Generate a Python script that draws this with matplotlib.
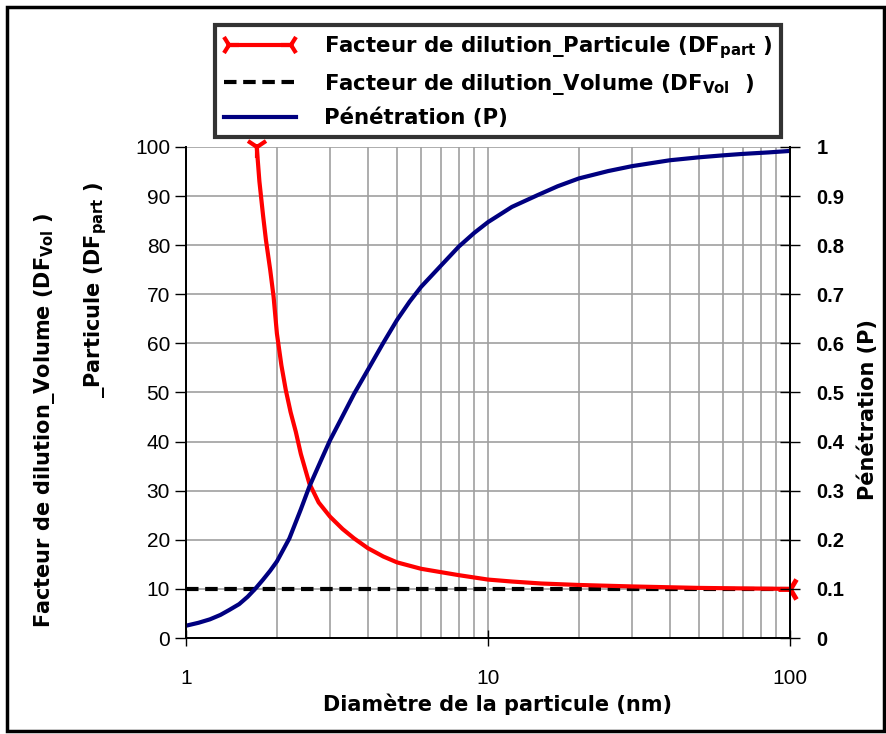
import matplotlib
matplotlib.use('Agg')
import matplotlib.pyplot as plt
from matplotlib.lines import Line2D
from matplotlib.legend_handler import HandlerBase
from matplotlib.patches import Rectangle
from matplotlib.ticker import FixedLocator, NullFormatter, FixedFormatter

plt.rcParams['font.family'] = ['Liberation Sans', 'DejaVu Sans']
plt.rcParams['mathtext.fontset'] = 'custom'
plt.rcParams['mathtext.bf'] = 'DejaVu Sans:bold'
plt.rcParams['mathtext.rm'] = 'DejaVu Sans:bold'
plt.rcParams['mathtext.default'] = 'bf'

BOLD = {'family': 'DejaVu Sans', 'weight': 'bold', 'size': 15}
LEG_FONT = {'family': 'DejaVu Sans', 'weight': 'bold', 'size': 15.3}

# Particle diameter (nm) and values
d_pen = [1, 1.1, 1.2, 1.3, 1.39, 1.5, 1.6, 1.7, 1.8, 1.9, 2, 2.2, 2.4,
         2.56, 2.8, 3, 3.3, 3.6, 4, 4.5, 5, 5.5, 6, 7, 8, 9, 10, 12, 14.6,
         17, 20, 25, 30, 40, 50, 60, 70, 85, 100]
pen = [0.025, 0.031, 0.038, 0.047, 0.057, 0.069, 0.084, 0.101, 0.119,
       0.137, 0.156, 0.203, 0.262, 0.308, 0.362, 0.403, 0.452, 0.497,
       0.546, 0.601, 0.648, 0.685, 0.715, 0.759, 0.797, 0.825, 0.847,
       0.878, 0.902, 0.92, 0.936, 0.951, 0.961, 0.973, 0.979, 0.983,
       0.986, 0.989, 0.992]

d_part = [1.715, 1.75, 1.8, 1.84, 1.9, 1.95, 2, 2.07, 2.14, 2.22, 2.31,
          2.4, 2.56, 2.75, 3, 3.3, 3.6, 4, 4.5, 5, 6, 7, 8, 10, 12, 15,
          20, 30, 50, 70, 100]
df_part = [100, 93, 86, 81, 75, 69.5, 62, 55.5, 50.5, 46, 42, 37.5, 31.5,
           27.6, 24.7, 22.2, 20.3, 18.3, 16.6, 15.4, 14.1, 13.4, 12.8, 11.9,
           11.5, 11.1, 10.8, 10.5, 10.2, 10.1, 10.0]

d_vol = [1, 100]
df_vol = [10, 10]

RED = '#ff0000'
NAVY = '#000080'

fig = plt.figure(figsize=(8.86, 7.34), dpi=100)
ax = fig.add_axes([186 / 886, 1 - 638 / 734, 604 / 886, 491 / 734])
ax2 = ax.twinx()

ax.plot(d_vol, df_vol, color='black', lw=3, ls=(0, (3, 1.6)), zorder=3)
ax.plot(d_part, df_part, color=RED, lw=3, zorder=4, solid_capstyle='butt')
ax.plot(d_part[0], df_part[0], marker='1', color=RED, ms=16, mew=3,
        zorder=5, clip_on=False)
ax.plot(d_part[-1], df_part[-1], marker='3', color=RED, ms=18, mew=3.5,
        zorder=5, clip_on=False)
ax2.plot(d_pen, pen, color=NAVY, lw=3)

ax.set_xscale('log')
ax.set_xlim(1, 100)
ax.set_ylim(0, 100)
ax2.set_ylim(0, 1)

ax.set_yticks(range(0, 101, 10))
ax2.set_yticks([i / 10 for i in range(11)])
ax2.set_yticklabels(['0'] + [f'{i/10:g}' for i in range(1, 10)] + ['1'],
                    fontweight='bold', fontsize=14.5)
ax.tick_params(axis='y', labelsize=15, direction='out', length=8, width=1)
ax2.tick_params(axis='y', direction='inout', length=14, width=1, pad=12)
ax.xaxis.set_major_locator(FixedLocator([1, 10, 100]))
ax.xaxis.set_major_formatter(FixedFormatter(['1', '10', '100']))
ax.xaxis.set_minor_formatter(NullFormatter())
ax.tick_params(axis='x', which='major', labelsize=15, direction='inout',
               length=12, width=1, pad=16)
ax.tick_params(axis='x', which='minor', length=0)

ax.grid(True, which='both', axis='x', color='#a0a0a0', lw=1.2)
ax.grid(True, which='major', axis='y', color='#a0a0a0', lw=1.2)
ax.set_axisbelow(True)

for a in (ax, ax2):
    a.spines['top'].set_visible(False)
    for s in ('left', 'right', 'bottom'):
        a.spines[s].set_linewidth(1.3)

ax.set_xlabel('Diamètre de la particule (nm)', fontdict=BOLD)
ax.xaxis.set_label_coords(0.515, -0.114)
fig.text(45 / 886, 1 - 420 / 734, r'Facteur de dilution_Volume (DF$_{Vol}$ )',
         rotation=90, ha='center', va='center', fontdict=BOLD)
fig.text(96 / 886, 1 - 290 / 734, r'_Particule (DF$_{part}$ )',
         rotation=90, ha='center', va='center', fontdict=BOLD)
fig.text(868 / 886, 1 - 410 / 734, 'Pénétration (P)',
         rotation=90, ha='center', va='center', fontdict=BOLD)


class ArrowLineHandler(HandlerBase):
    def create_artists(self, legend, orig, xd, yd, w, h, fontsize, trans):
        y = h / 2 - yd
        x0, x1 = -xd + 4, -xd + w - 4
        line = Line2D([x0, x1], [y, y], color=RED, lw=3, transform=trans)
        m0 = Line2D([x0], [y], marker='4', color=RED, ms=14, mew=3,
                    transform=trans)
        m1 = Line2D([x1], [y], marker='3', color=RED, ms=14, mew=3,
                    transform=trans)
        return [line, m0, m1]


h_part = Line2D([], [], color=RED)
h_vol = Line2D([], [], color='black', lw=3, ls=(0, (3, 1.6)))
h_pen = Line2D([], [], color=NAVY, lw=3)
leg = fig.legend([h_part, h_vol, h_pen],
                 [r'Facteur de dilution_Particule (DF$_{part}$ )',
                  r'Facteur de dilution_Volume (DF$_{Vol}$  )',
                  'Pénétration (P)'],
                 handler_map={h_part: ArrowLineHandler()},
                 loc='upper left', bbox_to_anchor=(215 / 886, 1 - 25 / 734),
                 borderaxespad=0, frameon=True, fancybox=False,
                 handlelength=3.4, prop=LEG_FONT, borderpad=0.42,
                 labelspacing=0.52, handletextpad=1.3)
leg.get_frame().set_edgecolor('black')
leg.get_frame().set_linewidth(3)

fig.patches.append(Rectangle((7 / 886, 3 / 734), 877 / 886, 1 - 10 / 734,
                             transform=fig.transFigure, fill=False,
                             edgecolor='black', lw=2.5))

fig.savefig('out.png', dpi=100)
